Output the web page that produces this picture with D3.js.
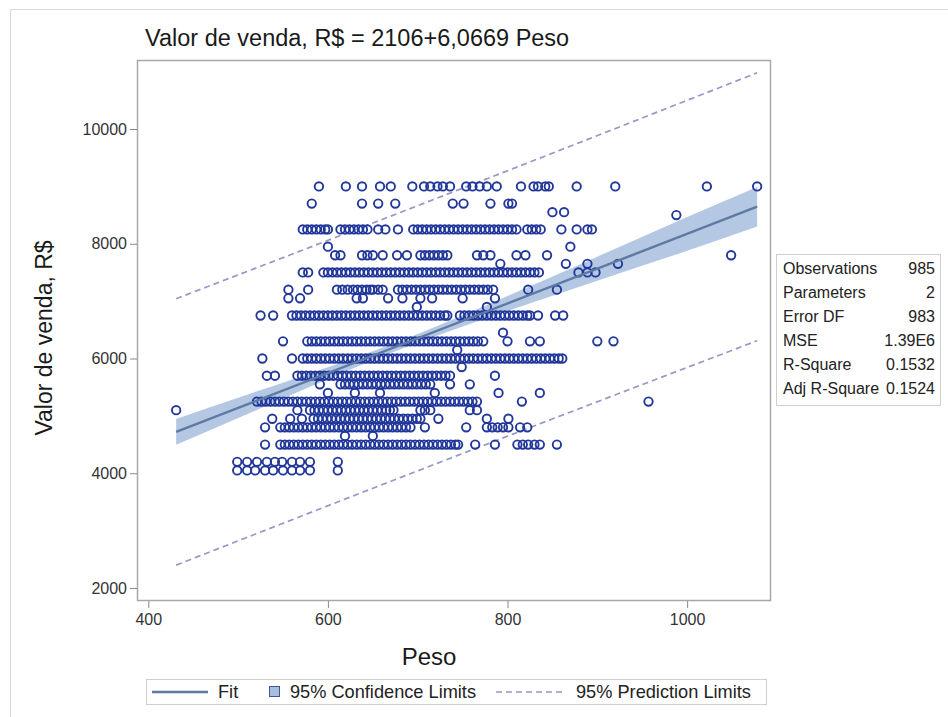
<!DOCTYPE html>
<html>
<head>
<meta charset="utf-8">
<script src="https://cdn.jsdelivr.net/npm/d3@7"></script>
<style>
  body { margin: 0; background: #fff; }
  svg { display: block; font-family: 'Liberation Sans', Arial, sans-serif; }
</style>
</head>
<body>
<div id="chart"></div>
<script>
// valor de venda levels (R$) and the peso values read along each level
const valorLevels = [9000, 8700, 8550, 8500, 8250, 7950, 7800, 7650, 7500, 7200, 7050, 6900, 6750,
  6450, 6300, 6150, 6000, 5850, 5700, 5550, 5400, 5250, 5100, 4950, 4800, 4650, 4500, 4200, 4050]

const pesoByLevel = [
  [590, 620, 638, 658, 670, 694, 707, 714, 722, 728, 736, 754, 761, 769, 777, 788, 815, 829, 834, 842, 846, 877, 920, 1022, 1078],
  [582, 638, 656, 675, 739, 751, 781, 801, 805],
  [850, 863],
  [988],
  [572, 577, 582, 587, 592, 597, 600, 614, 619, 624, 629, 634, 639, 644, 656, 664, 678, 695, 700, 705, 710, 715, 720, 725,
    730, 735, 740, 745, 750, 755, 760, 765, 770, 775, 780, 785, 790, 795, 800, 805, 810, 822, 827, 832, 837, 860, 877, 889, 894],
  [600, 870],
  [608, 614, 638, 644, 650, 661, 677, 688, 703, 708, 713, 718, 723, 728, 733, 766, 773, 781, 810, 820, 844, 1049],
  [792, 865, 889, 923],
  [572, 578, 595, 600, 605, 610, 615, 620, 625, 630, 635, 640, 645, 650, 655, 660, 665, 670, 675, 680, 685, 690, 695, 700,
    705, 710, 715, 720, 725, 730, 735, 740, 745, 750, 755, 760, 765, 770, 775, 780, 785, 790, 795, 800, 805, 810, 815, 820,
    825, 830, 835, 879, 889, 898],
  [556, 578, 610, 616, 622, 628, 633, 638, 643, 647, 650, 656, 661, 678, 683, 688, 693, 698, 703, 708, 713, 718, 723, 728,
    733, 738, 743, 748, 753, 758, 763, 768, 773, 778, 784, 823, 855],
  [556, 569, 632, 639, 667, 683, 703, 716, 750, 786],
  [699, 777],
  [525, 539, 560, 565, 570, 575, 580, 585, 590, 595, 600, 605, 610, 615, 620, 625, 630, 635, 640, 645, 650, 655, 660, 665,
    670, 675, 680, 685, 690, 695, 700, 705, 710, 715, 720, 725, 730, 733, 747, 752, 757, 762, 767, 772, 777, 782, 787, 792,
    797, 802, 807, 812, 817, 822, 825, 834, 853, 862],
  [795],
  [550, 577, 582, 587, 592, 597, 602, 607, 612, 617, 622, 627, 632, 637, 642, 647, 652, 657, 662, 667, 672, 677, 682, 687,
    692, 697, 702, 707, 712, 717, 722, 727, 732, 737, 742, 747, 752, 757, 762, 767, 773, 800, 825, 836, 900, 918],
  [744],
  [527, 560, 572, 577, 582, 587, 592, 597, 602, 607, 612, 617, 622, 627, 632, 637, 642, 647, 652, 657, 662, 667, 672, 677,
    682, 687, 692, 697, 702, 707, 712, 717, 722, 727, 732, 737, 742, 747, 752, 757, 762, 767, 772, 777, 782, 787, 792, 797,
    802, 807, 812, 817, 822, 827, 832, 837, 842, 847, 852, 857, 861],
  [749],
  [532, 541, 566, 571, 576, 581, 586, 591, 596, 601, 606, 611, 616, 621, 626, 631, 636, 641, 646, 651, 656, 661, 666, 671,
    676, 681, 686, 691, 696, 701, 706, 711, 716, 721, 726, 731, 736, 786],
  [591, 614, 619, 624, 629, 634, 639, 644, 649, 654, 659, 664, 669, 674, 679, 684, 689, 694, 699, 704, 709, 714, 736, 758],
  [600, 630, 658, 719, 790, 836],
  [521, 526, 531, 536, 541, 546, 551, 556, 561, 566, 571, 576, 581, 586, 591, 596, 601, 606, 611, 616, 621, 626, 631, 636,
    641, 646, 651, 656, 661, 666, 671, 676, 681, 686, 691, 696, 701, 706, 711, 716, 721, 726, 731, 736, 741, 746, 751, 756,
    761, 766, 816, 957],
  [431, 566, 580, 585, 590, 595, 600, 605, 610, 615, 620, 625, 630, 635, 640, 645, 650, 655, 660, 665, 669, 673, 703, 708,
    714, 758, 766],
  [538, 558, 571, 584, 589, 594, 599, 604, 609, 614, 619, 624, 629, 634, 639, 644, 649, 654, 659, 664, 669, 674, 679, 684,
    689, 694, 699, 703, 723, 777, 801],
  [530, 547, 552, 557, 562, 567, 572, 577, 582, 587, 592, 597, 602, 607, 612, 617, 622, 627, 632, 637, 642, 647, 652, 657,
    662, 667, 672, 677, 682, 687, 692, 708, 754, 777, 783, 789, 795, 801, 814, 822],
  [619, 650],
  [530, 547, 552, 557, 562, 567, 572, 577, 582, 587, 592, 597, 602, 607, 612, 617, 622, 627, 632, 637, 642, 647, 652, 657,
    662, 667, 672, 677, 682, 687, 692, 697, 702, 707, 712, 717, 722, 727, 732, 737, 742, 745, 764, 786, 811, 817, 823, 830,
    836, 855],
  [499, 510, 521, 532, 541, 549, 560, 569, 580, 611],
  [499, 510, 519, 530, 539, 550, 560, 569, 580, 611]
]

// fit line ends, confidence and prediction limits
const fitPeso = [431, 1078]
const fitValor = [4721, 8646]
const bandPeso = [431, 500, 600, 700, 800, 900, 1000, 1078]
const clmUpper = [4946, 5317, 5848, 6429, 7090, 7775, 8468, 8990]
const clmLower = [4496, 4962, 5644, 6277, 6830, 7357, 7878, 8300]
const pliPeso = [431, 700, 1078]
const pliUpper = [7043, 8664, 10980]
const pliLower = [2399, 4042, 6310]

const xTicks = [400, 600, 800, 1000]
const yTicks = [2000, 4000, 6000, 8000, 10000]

const statNames = ['Observations', 'Parameters', 'Error DF', 'MSE', 'R-Square', 'Adj R-Square']
const statValues = ['985', '2', '983', '1.39E6', '0.1532', '0.1524']

const width = 948
const height = 717
const frame = { left: 137, right: 770, top: 60, bottom: 600 }
const markColor = '#22379a'
const fitColor = '#5f7aa2'
const bandColor = '#a7bedf'
const pliColor = '#9797c8'

const svg = d3.select('#chart')
  .append('svg')
  .attr('width', width)
  .attr('height', height)

// outer page border
svg.append('rect')
  .attr('x', 10.5)
  .attr('y', 9.5)
  .attr('width', width)
  .attr('height', height)
  .attr('fill', 'none')
  .attr('stroke', '#d8d8d8')

const x = d3.scaleLinear().domain([387.4, 1092.3]).range([frame.left, frame.right])
const y = d3.scaleLinear().domain([1791, 11203]).range([frame.bottom, frame.top])

const points = []
valorLevels.forEach((v, i) => {
  pesoByLevel[i].forEach(p => points.push({ peso: p, valor: v }))
})

const pliTable = pliPeso.map((p, i) => ({ peso: p, upper: pliUpper[i], lower: pliLower[i] }))
const clmTable = bandPeso.map((p, i) => ({ peso: p, upper: clmUpper[i], lower: clmLower[i] }))

// confidence band
svg.append('path')
  .datum(clmTable)
  .attr('d', d3.area().x(d => x(d.peso)).y0(d => y(d.lower)).y1(d => y(d.upper)).curve(d3.curveMonotoneX))
  .attr('fill', bandColor)
  .attr('opacity', 0.85)

// prediction limits
;['upper', 'lower'].forEach(k => {
  svg.append('path')
    .datum(pliTable)
    .attr('d', d3.line().x(d => x(d.peso)).y(d => y(d[k])).curve(d3.curveMonotoneX))
    .attr('fill', 'none')
    .attr('stroke', pliColor)
    .attr('stroke-width', 1.7)
    .attr('stroke-dasharray', '6,4')
})

svg.selectAll('.pt')
  .data(points)
  .enter()
  .append('circle')
  .attr('class', 'pt')
  .attr('cx', d => x(d.peso))
  .attr('cy', d => y(d.valor))
  .attr('r', 4.2)
  .attr('fill', 'none')
  .attr('stroke', markColor)
  .attr('stroke-width', 1.9)

svg.append('line')
  .attr('x1', x(fitPeso[0]))
  .attr('y1', y(fitValor[0]))
  .attr('x2', x(fitPeso[1]))
  .attr('y2', y(fitValor[1]))
  .attr('stroke', fitColor)
  .attr('stroke-width', 2.4)

// frame
svg.append('rect')
  .attr('x', frame.left + 0.5)
  .attr('y', frame.top + 0.5)
  .attr('width', frame.right - frame.left)
  .attr('height', frame.bottom - frame.top)
  .attr('fill', 'none')
  .attr('stroke', '#a8a8a8')
  .attr('stroke-width', 1.5)

const xAxis = svg.append('g')
  .attr('transform', `translate(0,${frame.bottom + 1})`)
  .call(d3.axisBottom(x).tickValues(xTicks).tickFormat(d3.format('d')).tickSize(7).tickSizeOuter(0).tickPadding(6))
const yAxis = svg.append('g')
  .attr('transform', `translate(${frame.left},0)`)
  .call(d3.axisLeft(y).tickValues(yTicks).tickFormat(d3.format('d')).tickSize(7).tickSizeOuter(0).tickPadding(3))

;[xAxis, yAxis].forEach(a => {
  a.select('.domain').remove()
  a.selectAll('line').attr('stroke', '#8a8a8a')
  a.selectAll('text').attr('font-size', 16).attr('fill', '#333')
    .attr('font-family', "'Liberation Sans', Arial, sans-serif")
})

svg.append('text')
  .attr('x', 145)
  .attr('y', 46)
  .attr('font-size', 23.5)
  .attr('fill', '#1a1a1a')
  .text('Valor de venda, R$ = 2106+6,0669 Peso')

svg.append('text')
  .attr('transform', 'translate(52,338) rotate(-90)')
  .attr('text-anchor', 'middle')
  .attr('font-size', 23)
  .attr('fill', '#1a1a1a')
  .text('Valor de venda, R$')

svg.append('text')
  .attr('x', 429)
  .attr('y', 665)
  .attr('text-anchor', 'middle')
  .attr('font-size', 24)
  .attr('fill', '#1a1a1a')
  .text('Peso')

// stats inset
const stats = svg.append('g').attr('transform', 'translate(776,254)')
stats.append('rect')
  .attr('x', 0.5).attr('y', 0.5)
  .attr('width', 164).attr('height', 151)
  .attr('fill', '#fff')
  .attr('stroke', '#cfcfcf')
statNames.forEach((n, i) => {
  stats.append('text').attr('x', 7).attr('y', 20 + i * 24).attr('font-size', 16).attr('fill', '#222').text(n)
  stats.append('text').attr('x', 159).attr('y', 20 + i * 24).attr('font-size', 16).attr('fill', '#222')
    .attr('text-anchor', 'end').text(statValues[i])
})

// legend
const legend = svg.append('g').attr('transform', 'translate(146,679)')
legend.append('rect')
  .attr('x', 0.5).attr('y', 0.5)
  .attr('width', 620).attr('height', 25)
  .attr('fill', '#fff')
  .attr('stroke', '#cfcfcf')
legend.append('line')
  .attr('x1', 6).attr('x2', 62).attr('y1', 13).attr('y2', 13)
  .attr('stroke', fitColor).attr('stroke-width', 2.4)
legend.append('text').attr('x', 72).attr('y', 19).attr('font-size', 18.2).attr('fill', '#222').text('Fit')
legend.append('rect')
  .attr('x', 123.5).attr('y', 7.5).attr('width', 10).attr('height', 10)
  .attr('fill', bandColor).attr('stroke', '#445694')
legend.append('text').attr('x', 144).attr('y', 19).attr('font-size', 18.2).attr('fill', '#222').text('95% Confidence Limits')
legend.append('line')
  .attr('x1', 350).attr('x2', 418).attr('y1', 13).attr('y2', 13)
  .attr('stroke', pliColor).attr('stroke-width', 1.7).attr('stroke-dasharray', '6,4')
legend.append('text').attr('x', 430).attr('y', 19).attr('font-size', 18.2).attr('fill', '#222').text('95% Prediction Limits')
</script>
</body>
</html>
